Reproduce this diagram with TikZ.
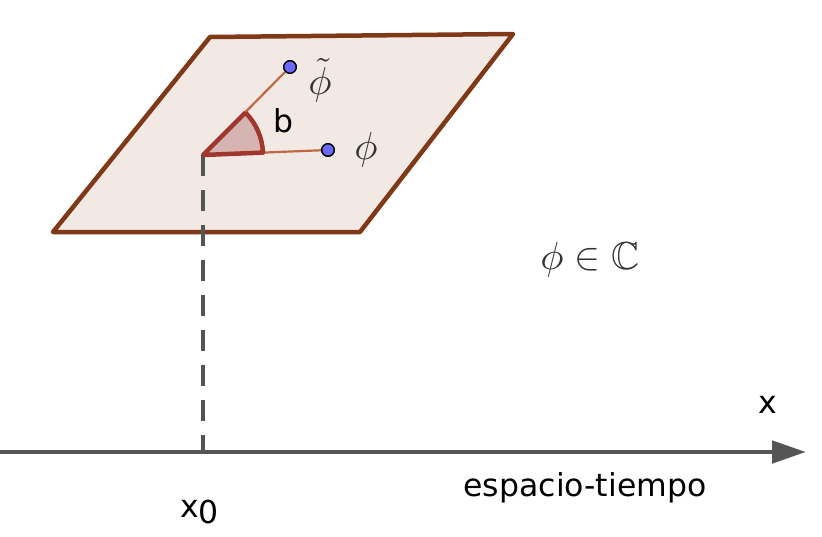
\documentclass[tikz,border=0pt]{standalone}
\usepackage{amssymb}
\usepackage{fontspec}
\setsansfont{DejaVu Sans}
\usetikzlibrary{arrows.meta}
\definecolor{planeedge}{RGB}{128,57,22}
\definecolor{planefill}{RGB}{242,233,229}
\definecolor{anglefill}{RGB}{214,180,178}
\definecolor{angleedge}{RGB}{160,55,45}
\definecolor{segcol}{RGB}{190,105,65}
\definecolor{ptfill}{RGB}{105,105,250}
\definecolor{axiscol}{RGB}{85,85,85}
\tikzset{
  plane/.style={draw=planeedge, fill=planefill, line width=4.5pt, line join=round},
  seg/.style={draw=segcol, line width=2.2pt},
  ptdot/.style={circle, draw=black, fill=ptfill, line width=1.3pt, minimum size=12.5pt, inner sep=0pt},
  sanslbl/.style={font=\sffamily\fontsize{31.5}{36}\selectfont, text=black, inner sep=0pt},
  mathlbl/.style={text=black!80, inner sep=0pt},
  axisline/.style={draw=axiscol, line width=4.8pt, -{Triangle[length=34pt,width=22pt]}},
  dashline/.style={draw=axiscol, line width=4pt, dash pattern=on 21pt off 14pt}
}
\newcommand{\bigmath}[1]{\scalebox{3.9}{$#1$}}
\begin{document}
\begin{tikzpicture}[x=1pt,y=-1pt]
\useasboundingbox (0,0) rectangle (822,536);
% plane
\coordinate (A) at (210,37);
\coordinate (B) at (513,34);
\coordinate (C) at (360,232);
\coordinate (D) at (53,232);
\path[plane] (A) -- (B) -- (C) -- (D) -- cycle;
% origin and points
\coordinate (O) at (203,155);
\coordinate (Ax0) at (203,452);
\coordinate (Aleft) at (0,452);
\coordinate (Aright) at (806,452);
\draw[dashline] (O) -- (Ax0);
% angle sector
\fill[anglefill] (O) -- ++(-2.3:60) arc (-2.3:-45:60) -- cycle;
\node[ptdot] (P) at (328,150) {};
\node[ptdot] (T) at (290,67) {};
\draw[seg] (O) -- (P);
\draw[seg] (O) -- (T);
\draw[draw=angleedge, line width=4.5pt, line join=round] (O) ++(-45:60) -- (O) -- ++(-2.3:60) arc (-2.3:-45:60);
\node[ptdot] at (P) {};
\node[ptdot] at (T) {};
% labels
\node[mathlbl] (Tl) at (320,80) {\bigmath{\tilde\phi}};
\node[mathlbl] (Pl) at (366,150) {\bigmath{\phi}};
\node[sanslbl] (bl) at (283,121) {b};
\node[mathlbl] (Cl) at (590,260) {\bigmath{\phi\in\mathbb{C}}};
% axis
\draw[axisline] (Aleft) -- (Aright);
\node[sanslbl] (xl) at (768,405) {x};
\node[sanslbl] (et) at (585,488) {espacio-tiempo};
\node[sanslbl, anchor=base west] (x0) at (180,517) {x\raisebox{-6pt}{0}};
\end{tikzpicture}
\end{document}
